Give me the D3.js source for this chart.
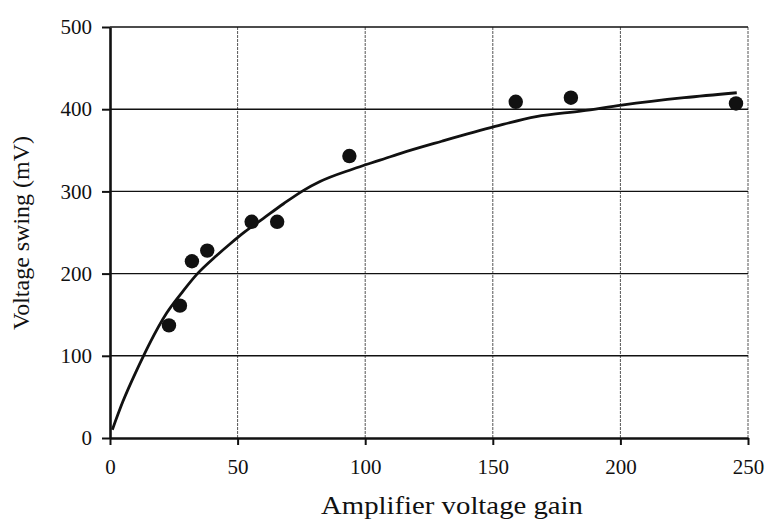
<!DOCTYPE html>
<html>
<head>
<meta charset="utf-8">
<script src="https://cdn.jsdelivr.net/npm/d3@7"></script>
<style>
  body { margin: 0; background: #fff; }
  svg { display: block; }
  text { font-family: 'Liberation Serif', 'DejaVu Serif', serif; fill: #111; }
</style>
</head>
<body>
<svg id="chart"></svg>
<script>
// measured points
var gainValues  = [23.1, 27.4, 32.1, 38.1, 55.5, 65.5, 93.8, 159, 180.6, 245.3];
var swingValues = [137, 161, 215, 228, 263, 263, 343, 409, 414, 407];

// fitted curve
var fitGain  = [0.9, 5, 10.4, 13, 15.7, 22.2, 28.7, 34, 41.8, 47, 52.9, 60, 68, 75.7, 82.3, 95, 105.8, 113.6, 130, 150.9, 167, 185, 200.5, 225, 245.6];
var fitSwing = [10, 44, 82, 99, 116, 152, 179, 199, 222, 236, 251, 267, 285, 301, 312, 327, 338, 346, 361, 379, 391, 398, 405, 414, 420];

var xTicks = [0, 50, 100, 150, 200, 250];
var yTicks = [0, 100, 200, 300, 400, 500];

var margin = {top: 27, right: 19, bottom: 84, left: 110};
var width = 767 - margin.left - margin.right;
var height = 522 - margin.top - margin.bottom;

var svg = d3.select('#chart')
    .attr('width', 767)
    .attr('height', 522);

var main = svg.append('g')
    .attr('transform', 'translate(' + margin.left + ',' + margin.top + ')');

var x = d3.scaleLinear()
    .domain([0, 250])
    .range([0, width]);

var y = d3.scaleLinear()
    .domain([0, 500])
    .range([height, 0]);

// vertical grid lines (thin, dotted look)
main.append('g')
    .selectAll('line')
    .data(xTicks.slice(1))
    .enter().append('line')
    .attr('x1', function (d) { return x(d); })
    .attr('x2', function (d) { return x(d); })
    .attr('y1', 0)
    .attr('y2', height)
    .attr('stroke', '#555')
    .attr('stroke-width', 1)
    .attr('stroke-dasharray', '3,1');

// horizontal grid lines
main.append('g')
    .selectAll('line')
    .data(yTicks.slice(1))
    .enter().append('line')
    .attr('x1', 0)
    .attr('x2', width)
    .attr('y1', function (d) { return y(d); })
    .attr('y2', function (d) { return y(d); })
    .attr('stroke', '#111')
    .attr('stroke-width', 1.4);

// axes
var xAxis = d3.axisBottom(x)
    .tickValues(xTicks)
    .tickSize(7)
    .tickPadding(10)
    .tickSizeOuter(0);

var yAxis = d3.axisLeft(y)
    .tickValues(yTicks)
    .tickSize(8)
    .tickPadding(10)
    .tickSizeOuter(0);

var gx = main.append('g')
    .attr('transform', 'translate(0,' + height + ')')
    .call(xAxis);

var gy = main.append('g')
    .call(yAxis);

[gx, gy].forEach(function (g) {
    g.attr('font-family', 'Liberation Serif');
    g.select('.domain').attr('stroke', '#111').attr('stroke-width', 2.6);
    g.selectAll('.tick line').attr('stroke', '#111').attr('stroke-width', 2);
    g.selectAll('.tick text')
        .attr('font-family', 'Liberation Serif')
        .attr('font-size', 21)
        .attr('fill', '#111');
});
gx.selectAll('.tick text').attr('dy', '0.9em');

// fitted curve
var fit = fitGain.map(function (d, i) { return [d, fitSwing[i]]; });

var line = d3.line()
    .x(function (d) { return x(d[0]); })
    .y(function (d) { return y(d[1]); })
    .curve(d3.curveMonotoneX);

main.append('path')
    .datum(fit)
    .attr('d', line)
    .attr('fill', 'none')
    .attr('stroke', '#111')
    .attr('stroke-width', 2.8);

// data points
main.append('g')
    .selectAll('circle')
    .data(swingValues)
    .enter().append('circle')
    .attr('cx', function (d, i) { return x(gainValues[i]); })
    .attr('cy', function (d) { return y(d); })
    .attr('r', 7.2)
    .attr('fill', '#111');

// axis titles
svg.append('text')
    .attr('x', 452)
    .attr('y', 514)
    .attr('text-anchor', 'middle')
    .attr('font-family', 'Liberation Serif')
    .attr('font-size', 25)
    .attr('textLength', 262)
    .attr('lengthAdjust', 'spacingAndGlyphs')
    .text('Amplifier voltage gain');

svg.append('text')
    .attr('transform', 'translate(29,233) rotate(-90)')
    .attr('text-anchor', 'middle')
    .attr('font-family', 'Liberation Serif')
    .attr('font-size', 24)
    .text('Voltage swing (mV)');
</script>
</body>
</html>
